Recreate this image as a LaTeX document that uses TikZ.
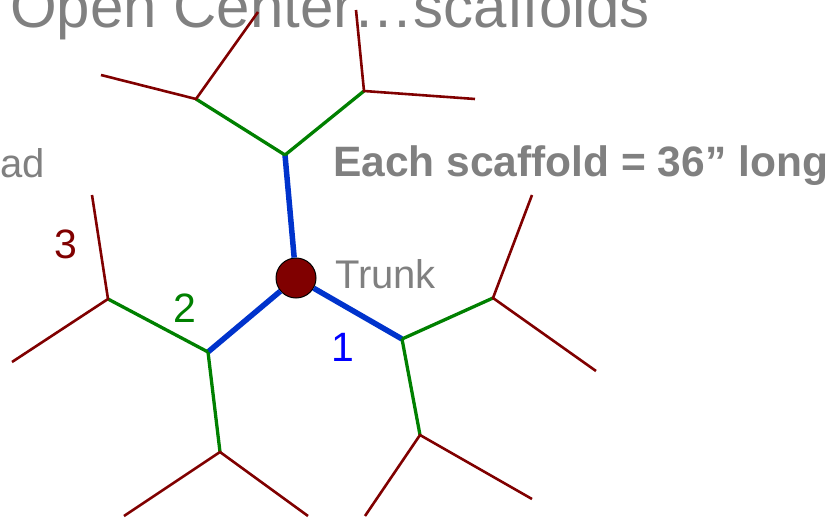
\documentclass[tikz,border=0pt]{standalone}
\usepackage{fontspec}
\setmainfont{Liberation Sans}
\usepackage{xcolor}
\usetikzlibrary{positioning}
\definecolor{treegray}{RGB}{128,128,128}
\definecolor{scafblue}{RGB}{0,51,204}
\definecolor{limbgreen}{RGB}{0,128,0}
\definecolor{twigred}{RGB}{128,0,0}

\begin{document}
\begin{tikzpicture}[
  x=1pt, y=-1pt,
  note/.style={inner sep=0pt, text=#1, font=\fontsize{40}{40}\selectfont},
  scaffold/.style={draw=scafblue, line width=5.5pt},
  limb/.style={draw=limbgreen, line width=3.3pt},
  twig/.style={draw=twigred, line width=2.6pt}
]
  \useasboundingbox (0,0) rectangle (834,518);

  \node[note=treegray, font=\fontsize{60}{60}\selectfont, anchor=base west] (title) at (10,28) {Open Center…scaffolds};
  \node[note=treegray, anchor=base west] (head) at (0,178) {ad};
  \node[note=treegray, font=\fontsize{42.5}{42.5}\selectfont\bfseries, anchor=base west] (length) at (333,177) {Each scaffold = 36” long};

  \node[circle, draw=black, line width=1pt, fill=twigred, minimum size=40pt, inner sep=0pt] (trunk) at (296,278) {};
  \node[note=treegray, anchor=base west] (trunklbl) at (335,288) {Trunk};

  % scaffold ends
  \coordinate (s1) at (402,339);
  \coordinate (s2) at (208,352);
  \coordinate (s3) at (285,155);

  % limb ends
  \coordinate (s1a) at (493,298);
  \coordinate (s1b) at (420,435);
  \coordinate (s2a) at (108,299);
  \coordinate (s2b) at (220,452);
  \coordinate (s3a) at (196,99);
  \coordinate (s3b) at (364,91);

  % twig ends
  \coordinate (t1) at (532,195);
  \coordinate (t2) at (596,371);
  \coordinate (t3) at (365,516);
  \coordinate (t4) at (532,499);
  \coordinate (t5) at (92,195);
  \coordinate (t6) at (12,362);
  \coordinate (t7) at (124,516);
  \coordinate (t8) at (308,516);
  \coordinate (t9) at (101,75);
  \coordinate (t10) at (258,12);
  \coordinate (t11) at (356,10);
  \coordinate (t12) at (475,99);

  \draw[scaffold] (trunk) -- (s1);
  \draw[scaffold] (trunk) -- (s2);
  \draw[scaffold] (trunk) -- (s3);

  \draw[limb] (s1) -- (s1a);
  \draw[limb] (s1) -- (s1b);
  \draw[limb] (s2) -- (s2a);
  \draw[limb] (s2) -- (s2b);
  \draw[limb] (s3) -- (s3a);
  \draw[limb] (s3) -- (s3b);

  \draw[twig] (t1) -- (s1a) -- (t2);
  \draw[twig] (t3) -- (s1b) -- (t4);
  \draw[twig] (t5) -- (s2a) -- (t6);
  \draw[twig] (t7) -- (s2b) -- (t8);
  \draw[twig] (t9) -- (s3a) -- (t10);
  \draw[twig] (t11) -- (s3b) -- (t12);

  \node[note=blue, font=\fontsize{41}{41}\selectfont] (n1) at (343,347) {1};
  \node[note=limbgreen, font=\fontsize{41}{41}\selectfont] (n2) at (185,308) {2};
  \node[note=twigred, font=\fontsize{41}{41}\selectfont] (n3) at (66,244) {3};
\end{tikzpicture}
\end{document}
